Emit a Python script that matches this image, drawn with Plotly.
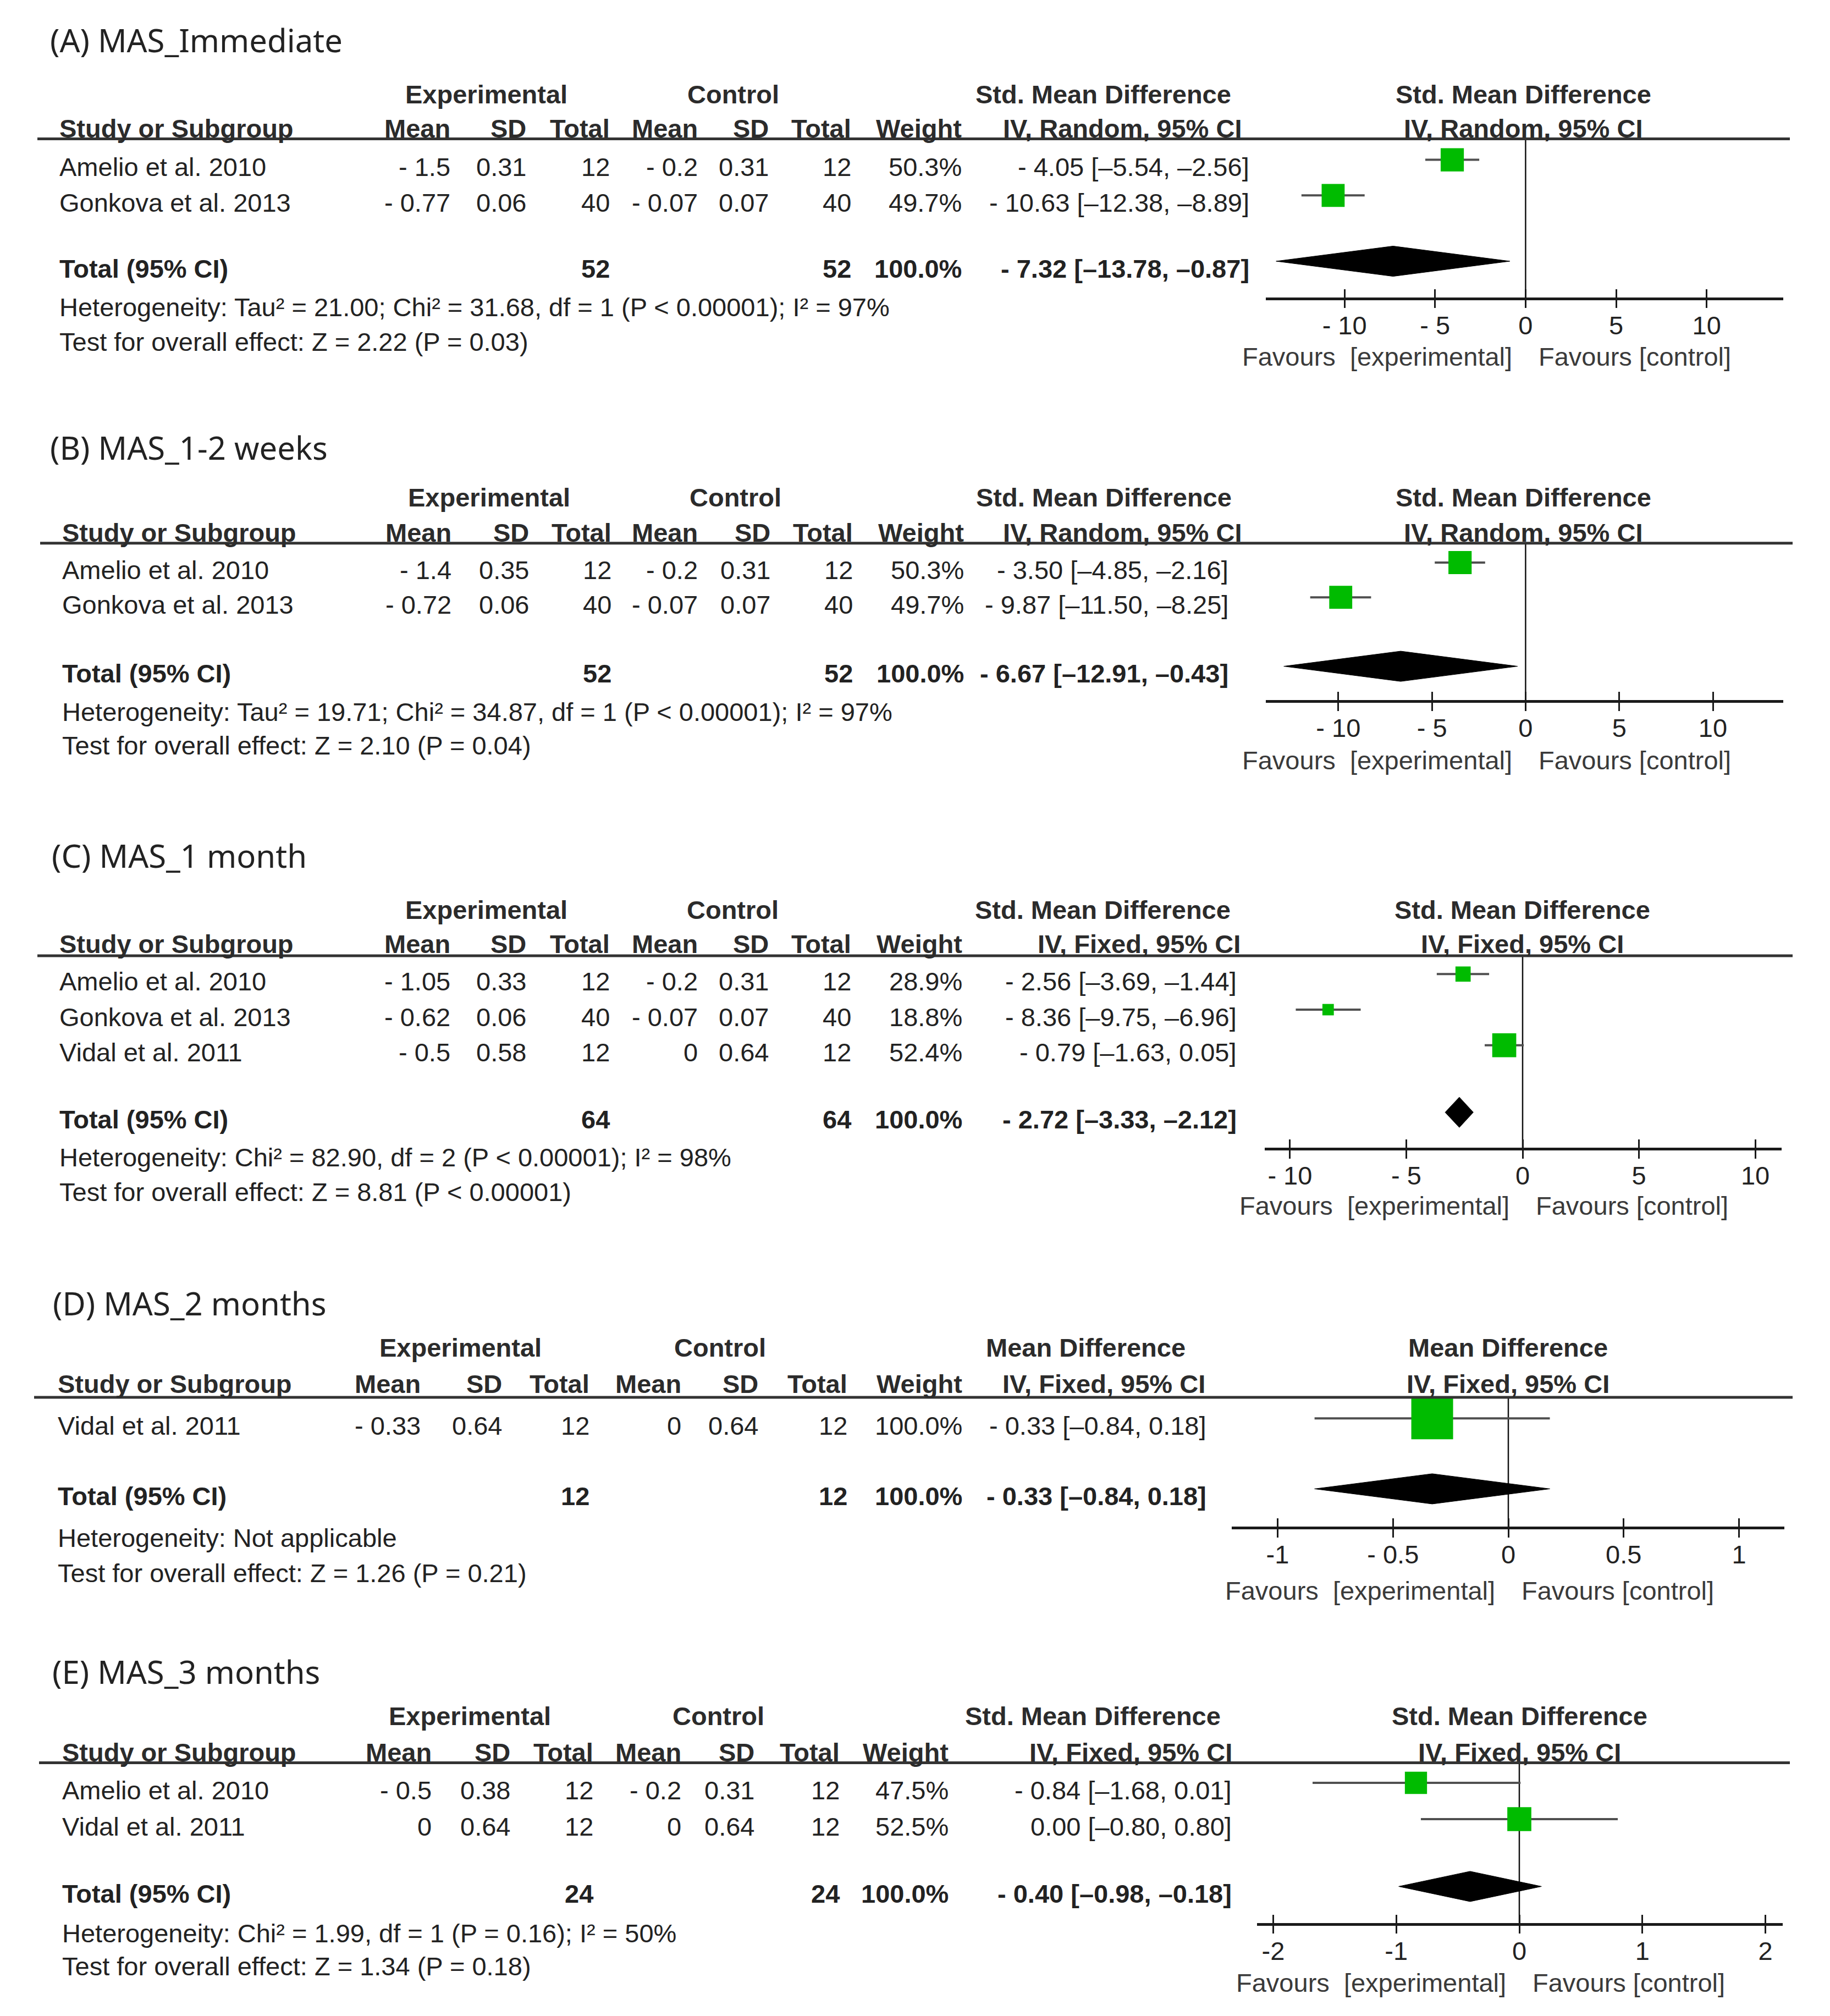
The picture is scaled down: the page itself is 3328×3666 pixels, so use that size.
import plotly.graph_objects as go

W, H = 3328, 3666
FONT = "Liberation Sans, Arial, Helvetica, sans-serif"
TFONT = "Noto Sans, Open Sans, sans-serif"
TXT = "#222222"
HDR = "#2b2b2b"
FAV = "#3a3a3a"
GREEN = "#00bb00"
WHISK = "#505050"
FS = 47

# ---------------- data ----------------
# (A) MAS_Immediate
A_studies = ["Amelio et al. 2010", "Gonkova et al. 2013"]
A_e_mean = [-1.5, -0.77]
A_e_sd = [0.31, 0.06]
A_e_n = [12, 40]
A_c_mean = [-0.2, -0.07]
A_c_sd = [0.31, 0.07]
A_c_n = [12, 40]
A_weight = [50.3, 49.7]
A_est = [-4.05, -10.63]
A_lo = [-5.54, -12.38]
A_hi = [-2.56, -8.89]
A_total = [52, 52]
A_total_ci = [-7.32, -13.78, -0.87]

# (B) MAS_1-2 weeks
B_studies = ["Amelio et al. 2010", "Gonkova et al. 2013"]
B_e_mean = [-1.4, -0.72]
B_e_sd = [0.35, 0.06]
B_e_n = [12, 40]
B_c_mean = [-0.2, -0.07]
B_c_sd = [0.31, 0.07]
B_c_n = [12, 40]
B_weight = [50.3, 49.7]
B_est = [-3.50, -9.87]
B_lo = [-4.85, -11.50]
B_hi = [-2.16, -8.25]
B_total = [52, 52]
B_total_ci = [-6.67, -12.91, -0.43]

# (C) MAS_1 month
C_studies = ["Amelio et al. 2010", "Gonkova et al. 2013", "Vidal et al. 2011"]
C_e_mean = [-1.05, -0.62, -0.5]
C_e_sd = [0.33, 0.06, 0.58]
C_e_n = [12, 40, 12]
C_c_mean = [-0.2, -0.07, 0]
C_c_sd = [0.31, 0.07, 0.64]
C_c_n = [12, 40, 12]
C_weight = [28.9, 18.8, 52.4]
C_est = [-2.56, -8.36, -0.79]
C_lo = [-3.69, -9.75, -1.63]
C_hi = [-1.44, -6.96, 0.05]
C_total = [64, 64]
C_total_ci = [-2.72, -3.33, -2.12]

# (D) MAS_2 months
D_studies = ["Vidal et al. 2011"]
D_e_mean = [-0.33]
D_e_sd = [0.64]
D_e_n = [12]
D_c_mean = [0]
D_c_sd = [0.64]
D_c_n = [12]
D_weight = [100.0]
D_est = [-0.33]
D_lo = [-0.84]
D_hi = [0.18]
D_total = [12, 12]
D_total_ci = [-0.33, -0.84, 0.18]

# (E) MAS_3 months
E_studies = ["Amelio et al. 2010", "Vidal et al. 2011"]
E_e_mean = [-0.5, 0]
E_e_sd = [0.38, 0.64]
E_e_n = [12, 12]
E_c_mean = [-0.2, 0]
E_c_sd = [0.31, 0.64]
E_c_n = [12, 12]
E_weight = [47.5, 52.5]
E_est = [-0.84, 0.00]
E_lo = [-1.68, -0.80]
E_hi = [0.01, 0.80]
E_total = [24, 24]
E_total_ci = [-0.40, -0.98, -0.18]      # as printed
E_total_drawn_hi = 0.18                  # diamond right tip as drawn

titles = ["(A) MAS_Immediate", "(B) MAS_1-2 weeks", "(C) MAS_1 month",
          "(D) MAS_2 months", "(E) MAS_3 months"]
effect_names = ["Std. Mean Difference", "Std. Mean Difference", "Std. Mean Difference",
                "Mean Difference", "Std. Mean Difference"]
methods = ["IV, Random, 95% CI", "IV, Random, 95% CI", "IV, Fixed, 95% CI",
           "IV, Fixed, 95% CI", "IV, Fixed, 95% CI"]
het_texts = [
    "Heterogeneity: Tau² = 21.00; Chi² = 31.68, df = 1 (P < 0.00001); I² = 97%",
    "Heterogeneity: Tau² = 19.71; Chi² = 34.87, df = 1 (P < 0.00001); I² = 97%",
    "Heterogeneity: Chi² = 82.90, df = 2 (P < 0.00001); I² = 98%",
    "Heterogeneity: Not applicable",
    "Heterogeneity: Chi² = 1.99, df = 1 (P = 0.16); I² = 50%",
]
test_texts = [
    "Test for overall effect: Z = 2.22 (P = 0.03)",
    "Test for overall effect: Z = 2.10 (P = 0.04)",
    "Test for overall effect: Z = 8.81 (P < 0.00001)",
    "Test for overall effect: Z = 1.26 (P = 0.21)",
    "Test for overall effect: Z = 1.34 (P = 0.18)",
]
tick_vals = [[-10, -5, 0, 5, 10], [-10, -5, 0, 5, 10], [-10, -5, 0, 5, 10],
             [-1, -0.5, 0, 0.5, 1], [-2, -1, 0, 1, 2]]
tick_text = [["- 10", "- 5", "0", "5", "10"], ["- 10", "- 5", "0", "5", "10"],
             ["- 10", "- 5", "0", "5", "10"], ["-1", "- 0.5", "0", "0.5", "1"],
             ["-2", "-1", "0", "1", "2"]]

data = [
    dict(st=A_studies, em=A_e_mean, esd=A_e_sd, en=A_e_n, cm=A_c_mean, csd=A_c_sd, cn=A_c_n,
         w=A_weight, est=A_est, lo=A_lo, hi=A_hi, tot=A_total, tci=A_total_ci, thi=A_total_ci[2]),
    dict(st=B_studies, em=B_e_mean, esd=B_e_sd, en=B_e_n, cm=B_c_mean, csd=B_c_sd, cn=B_c_n,
         w=B_weight, est=B_est, lo=B_lo, hi=B_hi, tot=B_total, tci=B_total_ci, thi=B_total_ci[2]),
    dict(st=C_studies, em=C_e_mean, esd=C_e_sd, en=C_e_n, cm=C_c_mean, csd=C_c_sd, cn=C_c_n,
         w=C_weight, est=C_est, lo=C_lo, hi=C_hi, tot=C_total, tci=C_total_ci, thi=C_total_ci[2]),
    dict(st=D_studies, em=D_e_mean, esd=D_e_sd, en=D_e_n, cm=D_c_mean, csd=D_c_sd, cn=D_c_n,
         w=D_weight, est=D_est, lo=D_lo, hi=D_hi, tot=D_total, tci=D_total_ci, thi=D_total_ci[2]),
    dict(st=E_studies, em=E_e_mean, esd=E_e_sd, en=E_e_n, cm=E_c_mean, csd=E_c_sd, cn=E_c_n,
         w=E_weight, est=E_est, lo=E_lo, hi=E_hi, tot=E_total, tci=E_total_ci, thi=E_total_drawn_hi),
]

# ---------------- layout (pixel positions) ----------------
LAY = [
    dict(title=(81, 65), h1=163, h2=225.4, line=(60, 3247, 244.6), rows=[295.6, 360.3], total=480,
         het=551, test=613.8, axis=(2294, 3234.6, 532.6), zero=2766.4, unit=32.925, fav=640.6,
         cols=(97.6, 813, 951, 1102.6, 1263, 1392, 1541.6, 1743, 2266),
         exp_c=876.5, ctl_c=1325, eff_c=1998.5, iv_r=2252.4, rh_c=2762),
    dict(title=(81, 805.5), h1=896.8, h2=960, line=(65, 3252, 979.7), rows=[1028, 1091.2], total=1216.6,
         het=1286, test=1347, axis=(2294, 3234.6, 1265), zero=2766.4, unit=34.06, fav=1374.5,
         cols=(103, 815, 956, 1106, 1263, 1395, 1545, 1747, 2228),
         exp_c=881.5, ctl_c=1329, eff_c=1999.5, iv_r=2252.4, rh_c=2762),
    dict(title=(84, 1547), h1=1646, h2=1708.5, line=(60, 3252, 1730), rows=[1776.3, 1841, 1905.8], total=2027.7,
         het=2096.9, test=2159.4, axis=(2291.8, 3231.5, 2079), zero=2761, unit=42.31, fav=2184,
         cols=(97.6, 813, 951, 1102.6, 1263, 1392, 1541.6, 1744, 2243),
         exp_c=876.5, ctl_c=1324, eff_c=1997, iv_r=2250, rh_c=2760),
    dict(title=(86, 2361), h1=2442.6, h2=2508.8, line=(54, 3252, 2533), rows=[2584.2], total=2712.4,
         het=2788, test=2852, axis=(2231.6, 3236.7, 2768), zero=2735, unit=419.5, fav=2884,
         cols=(95.4, 759, 907, 1066, 1233, 1373, 1535, 1744, 2188),
         exp_c=829, ctl_c=1301, eff_c=1966, iv_r=2186, rh_c=2734.5),
    dict(title=(85, 3031), h1=3112.6, h2=3178.4, line=(63, 3247, 3197.5), rows=[3247, 3313], total=3435.4,
         het=3507.6, test=3567, axis=(2278.3, 3233.6, 3488.5), zero=2755, unit=223.8, fav=3597,
         cols=(103, 779, 922, 1073, 1232.6, 1366, 1521, 1719, 2234),
         exp_c=846, ctl_c=1298, eff_c=1979, iv_r=2234.7, rh_c=2755),
]
MARK_OFF = -13      # markers sit slightly above text centre
DIAMOND_HALF = 27.5  # px


def fnum(v):
    s = f"{v}"
    return "- " + s[1:] if s.startswith("-") else s


def fci(e, lo, hi):
    lead = f"- {abs(e):.2f}" if e < 0 else f"{e:.2f}"
    inner = lambda v: f"–{abs(v):.2f}" if v < 0 else f"{v:.2f}"
    return f"{lead} [{inner(lo)}, {inner(hi)}]"


fig = go.Figure()
annotations = []
shapes = []


def txt(x, y, s, anchor="left", size=FS, bold=False, color=TXT, family=FONT):
    annotations.append(dict(
        x=x / W, y=1 - y / H, xref="paper", yref="paper", text=s, showarrow=False,
        xanchor=anchor, yanchor="middle",
        font=dict(family=family, size=size, color=color, weight="bold" if bold else "normal")))


for k, (d, L) in enumerate(zip(data, LAY), start=1):
    xr = "x" if k == 1 else f"x{k}"
    yr = "y" if k == 1 else f"y{k}"
    xo = f"x{k + 5}"
    n = len(d["st"])
    c = L["cols"]

    # ---- titles and headers ----
    txt(L["title"][0], L["title"][1], titles[k - 1], size=58, family=TFONT, color=TXT)
    txt(L["exp_c"], L["h1"], "Experimental", anchor="center", bold=True, color=HDR)
    txt(L["ctl_c"], L["h1"], "Control", anchor="center", bold=True, color=HDR)
    txt(L["eff_c"], L["h1"], effect_names[k - 1], anchor="center", bold=True, color=HDR)
    txt(L["rh_c"], L["h1"], effect_names[k - 1], anchor="center", bold=True, color=HDR)
    txt(c[0], L["h2"], "Study or Subgroup", bold=True, color=HDR)
    for xx, lab in zip(c[1:8], ["Mean", "SD", "Total", "Mean", "SD", "Total", "Weight"]):
        txt(xx, L["h2"], lab, anchor="right", bold=True, color=HDR)
    txt(L["iv_r"], L["h2"], methods[k - 1], anchor="right", bold=True, color=HDR)
    txt(L["rh_c"], L["h2"], methods[k - 1], anchor="center", bold=True, color=HDR)

    # ---- study rows ----
    rows = L["rows"]
    sp = rows[1] - rows[0] if n > 1 else 64.0
    for i in range(n):
        y = rows[i]
        txt(c[0], y, d["st"][i])
        vals = [fnum(d["em"][i]), fnum(d["esd"][i]), fnum(d["en"][i]),
                fnum(d["cm"][i]), fnum(d["csd"][i]), fnum(d["cn"][i]),
                f"{d['w'][i]:.1f}%"]
        for xx, v in zip(c[1:8], vals):
            txt(xx, y, v, anchor="right")
        txt(c[8], y, fci(d["est"][i], d["lo"][i], d["hi"][i]), anchor="right")

    # ---- total row ----
    txt(c[0], L["total"], "Total (95% CI)", bold=True)
    txt(c[3], L["total"], fnum(d["tot"][0]), anchor="right", bold=True)
    txt(c[6], L["total"], fnum(d["tot"][1]), anchor="right", bold=True)
    txt(c[7], L["total"], "100.0%", anchor="right", bold=True)
    txt(c[8], L["total"], fci(*d["tci"]), anchor="right", bold=True)
    txt(c[0], L["het"], het_texts[k - 1])
    txt(c[0], L["test"], test_texts[k - 1])

    # header underline
    shapes.append(dict(type="line", xref="paper", yref="paper",
                       x0=L["line"][0] / W, x1=L["line"][1] / W,
                       y0=1 - L["line"][2] / H, y1=1 - L["line"][2] / H,
                       line=dict(color="#333333", width=5)))

    # ---- forest axes ----
    ax0, ax1, axy = L["axis"]
    xrange = [(ax0 - L["zero"]) / L["unit"], (ax1 - L["zero"]) / L["unit"]]
    m0 = rows[0] + MARK_OFF
    ybot = (axy - m0) / sp
    ytop = (L["line"][2] - m0) / sp
    tot_idx = (L["total"] - rows[0]) / sp
    dh = DIAMOND_HALF / sp
    ydom = [1 - axy / H, 1 - L["line"][2] / H]

    xkey = "xaxis" if k == 1 else f"xaxis{k}"
    ykey = "yaxis" if k == 1 else f"yaxis{k}"
    fig.update_layout(**{
        xkey: dict(domain=[ax0 / W, ax1 / W], range=xrange, anchor=yr,
                   showline=True, linewidth=4.5, linecolor="#1a1a1a",
                   ticks="outside", ticklen=15, tickwidth=3, tickcolor="#1a1a1a",
                   tickvals=tick_vals[k - 1], ticktext=tick_text[k - 1],
                   tickfont=dict(family=FONT, size=FS, color=TXT),
                   ticklabelstandoff=-9,
                   showgrid=False, zeroline=False, fixedrange=True),
        f"xaxis{k + 5}": dict(overlaying=xr, anchor=yr, range=xrange,
                              ticks="inside", ticklen=15, tickwidth=3, tickcolor="#1a1a1a",
                              tickvals=tick_vals[k - 1], showticklabels=False,
                              showline=False, showgrid=False, zeroline=False, fixedrange=True),
        ykey: dict(domain=ydom, range=[ybot, ytop], visible=False, fixedrange=True),
    })

    # zero line
    shapes.append(dict(type="line", xref=xr, yref=f"{yr} domain", x0=0, x1=0, y0=0, y1=1,
                       line=dict(color="#111111", width=2.5), layer="below"))

    # favours labels
    for anchor, shift, lab in [("right", -22, "Favours  [experimental]"), ("left", 22, "Favours [control]")]:
        annotations.append(dict(x=0, xref=xr, y=1 - L["fav"] / H, yref="paper", text=lab,
                                showarrow=False, xanchor=anchor, yanchor="middle", xshift=shift,
                                font=dict(family=FONT, size=FS, color=FAV)))

    # study squares with CI whiskers
    sizes = [8 + 0.68 * w for w in d["w"]]
    fig.add_trace(go.Scatter(
        x=d["est"], y=list(range(n)), xaxis=xr, yaxis=yr, mode="markers",
        marker=dict(symbol="square", size=sizes, color=GREEN, opacity=1, line=dict(width=0)),
        error_x=dict(type="data", symmetric=False,
                     array=[h - e for h, e in zip(d["hi"], d["est"])],
                     arrayminus=[e - l for e, l in zip(d["est"], d["lo"])],
                     color=WHISK, thickness=4, width=0),
        cliponaxis=False, hoverinfo="skip", showlegend=False))

    # pooled diamond
    te, tl = d["tci"][0], d["tci"][1]
    th = d["thi"]
    fig.add_trace(go.Scatter(
        x=[tl, te, th, te, tl], y=[tot_idx, tot_idx - dh, tot_idx, tot_idx + dh, tot_idx],
        xaxis=xr, yaxis=yr, mode="lines", fill="toself", fillcolor="#000000",
        line=dict(color="#000000", width=1), cliponaxis=False,
        hoverinfo="skip", showlegend=False))

    # dummy trace so the overlay tick axis is drawn
    fig.add_trace(go.Scatter(x=[0], y=[0], xaxis=xo, yaxis=yr, mode="markers",
                             marker=dict(size=1, opacity=0), hoverinfo="skip", showlegend=False))

fig.update_layout(width=W, height=H, margin=dict(l=0, r=0, t=0, b=0),
                  paper_bgcolor="white", plot_bgcolor="white", showlegend=False,
                  annotations=annotations, shapes=shapes)
fig.write_html("out.html")
